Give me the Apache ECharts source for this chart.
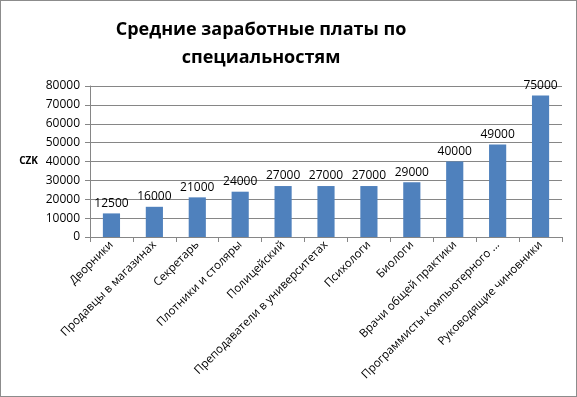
<!DOCTYPE html>
<html><head><meta charset="utf-8">
<script src="https://cdn.jsdelivr.net/npm/echarts@6/dist/echarts.min.js"></script>
<style>html,body{margin:0;padding:0;background:#fff}#c{width:575px;height:395px;border:1px solid #8c8c8c}</style>
</head><body><div id="c"></div>
<script>
const categories = ["Дворники","Продавцы в магазинах","Секретарь","Плотники и столяры","Полицейский","Преподаватели в университетах","Психологи","Биологи","Врачи общей практики","Программисты компьютерного ...","Руководящие чиновники"];
const salaries = [12500,16000,21000,24000,27000,27000,27000,29000,40000,49000,75000];
const titleText = "Средние заработные платы по\nспециальностям";
const axisName = "CZK";
const FONT = "Open Sans";
const chart = echarts.init(document.getElementById('c'));
chart.setOption({
  animation:false,
  title:{text:titleText,left:255,top:10,textAlign:'center',textStyle:{fontFamily:FONT,fontSize:18,fontWeight:'bold',color:'#000',lineHeight:28}},
  grid:{left:89,right:14,top:85,bottom:159},
  xAxis:{type:'category',data:categories,
    axisLine:{lineStyle:{color:'#868686'}},
    axisTick:{show:true,alignWithLabel:false,length:5,lineStyle:{color:'#868686'}},
    axisLabel:{interval:0,rotate:45,fontFamily:FONT,fontSize:11.5,color:'#000',margin:6}},
  yAxis:{type:'value',min:0,max:80000,interval:10000,
    name:axisName,nameLocation:'middle',nameRotate:0,nameGap:52,
    nameTextStyle:{fontFamily:FONT,fontSize:10,fontWeight:'bold',color:'#000'},
    axisLine:{show:true,lineStyle:{color:'#868686'}},
    axisTick:{show:true,length:5,lineStyle:{color:'#868686'}},
    splitLine:{lineStyle:{color:'#868686'}},
    axisLabel:{fontFamily:FONT,fontSize:12,color:'#000',margin:10,formatter:v=>String(v)}},
  series:[{type:'bar',data:salaries,barWidth:'40%',
    itemStyle:{color:'#4f81bd'},
    label:{show:true,position:'top',distance:4,fontFamily:FONT,fontSize:12,color:'#000'}}]
});
</script></body></html>
